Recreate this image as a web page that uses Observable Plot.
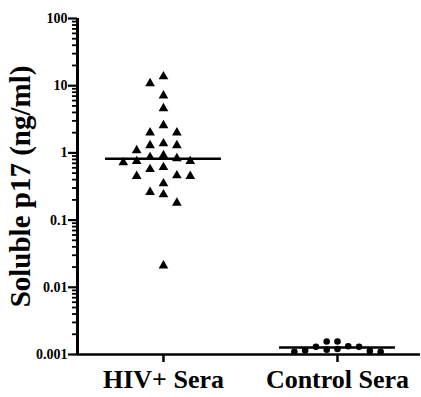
<!DOCTYPE html>
<html>
<head>
<meta charset="utf-8">
<script src="https://cdn.jsdelivr.net/npm/d3@7"></script>
<script src="https://cdn.jsdelivr.net/npm/@observablehq/plot@0.6"></script>
<style>
  html, body { margin: 0; padding: 0; background: #fff; }
</style>
</head>
<body>
<div id="chart"></div>
<script>
// ---- data ----
const groups = ["HIV+ Sera", "Control Sera"];
const hivValues = [13.7, 10.8, 7.1, 4.6, 2.56, 2.0, 2.0, 1.38, 1.29, 1.29, 1.09,
  0.92, 0.86, 0.83, 0.75, 0.75, 0.72, 0.61, 0.57, 0.46, 0.45, 0.45, 0.35,
  0.26, 0.24, 0.18, 0.021];
const controlValues = [0.00156, 0.00156, 0.00133, 0.0013, 0.0013, 0.00121,
  0.00118, 0.00115, 0.00113, 0.0011, 0.0011];
const medians = [0.82, 0.00127];
const yTicks = [0.001, 0.01, 0.1, 1, 10, 100];
const yTickLabels = ["0.001", "0.01", "0.1", "1", "10", "100"];
const yLabel = "Soluble p17 (ng/ml)";

// ---- layout helpers (computed, not data) ----
const xDomain = [-0.494, 1.477];
// spread points of similar value into side columns (column scatter)
function columnScatter(values, groupIndex, gapDecades, step) {
  const cols = new Map();
  const order = d3.range(values.length).sort((a, b) => values[b] - values[a]);
  const out = [];
  const prefs = [0, -1, 1, -2, 2, -3, 3, -4, 4, -5, 5, -6, 6];
  for (const i of order) {
    const ly = Math.log10(values[i]);
    let c = prefs.find(k => !cols.has(k) || Math.abs(cols.get(k) - ly) >= gapDecades);
    cols.set(c, ly);
    out.push({group: groups[groupIndex], value: values[i], x: groupIndex + c * step});
  }
  return out;
}
const hiv = columnScatter(hivValues, 0, 0.16, 0.077);
const ctrl = columnScatter(controlValues, 1, 0.09, 0.062);
const med = medians.map((v, i) => ({value: v, i}));
const minorTicks = d3.range(-3, 2).flatMap(e => d3.range(2, 10).map(k => k * 10 ** e));

const chart = Plot.plot({
  width: 421,
  height: 397,
  marginTop: 18,
  marginBottom: 43,
  marginLeft: 77,
  marginRight: 1,
  style: {fontFamily: "'Liberation Serif', 'Times New Roman', serif", fontWeight: "bold", color: "black", background: "white"},
  x: {domain: xDomain, axis: null},
  y: {type: "log", domain: [0.001, 100], axis: null},
  marks: [
    Plot.axisY(minorTicks, {tickSize: 5, strokeWidth: 1.8, tickFormat: () => "", label: null}),
    Plot.axisY(yTicks, {tickSize: 9, strokeWidth: 2.2, tickPadding: 1, fontSize: 14,
      fontFamily: "'Liberation Serif', serif", fontWeight: "bold",
      tickFormat: (d) => yTickLabels[yTicks.indexOf(d)], label: null}),
    Plot.axisX([0, 1], {tickSize: 8, strokeWidth: 2.5, tickPadding: 7, fontSize: 26,
      fontFamily: "'Liberation Serif', serif", fontWeight: "bold",
      tickFormat: (d) => groups[d], label: null}),
    Plot.ruleX([xDomain[0]], {strokeWidth: 3}),
    Plot.ruleY([0.001], {strokeWidth: 2.5}),
    Plot.ruleY(med, {y: "value", x1: d => d.i - 0.333, x2: d => d.i + 0.333, strokeWidth: 2.5}),
    Plot.dot(hiv, {x: "x", y: "value", symbol: "triangle", r: 3.6, fill: "black", stroke: null}),
    Plot.dot(ctrl, {x: "x", y: "value", symbol: "circle", r: 3.3, fill: "black", stroke: null}),
    Plot.text([yLabel], {frameAnchor: "left", textAnchor: "middle", rotate: -90, dx: -57,
      fontSize: 29, fontWeight: "bold", fontFamily: "'Liberation Serif', serif"})
  ]
});
document.getElementById("chart").appendChild(chart);
</script>
</body>
</html>
